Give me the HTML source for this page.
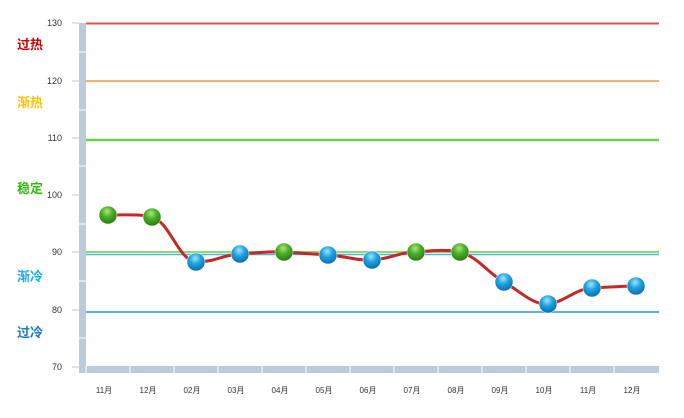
<!DOCTYPE html>
<html><head><meta charset="utf-8"><style>
body{margin:0;background:#fff}
svg text{font-family:"Liberation Sans","Noto Sans CJK SC",sans-serif}
</style></head><body>
<svg width="684" height="413" xmlns="http://www.w3.org/2000/svg">
<defs>
<radialGradient id="g" cx="0.45" cy="0.3" r="0.7"><stop offset="0" stop-color="#a8e87a"/><stop offset="0.45" stop-color="#4cae2a"/><stop offset="1" stop-color="#2a7a10"/></radialGradient>
<radialGradient id="b" cx="0.45" cy="0.3" r="0.7"><stop offset="0" stop-color="#9fe4ff"/><stop offset="0.45" stop-color="#1fa3e0"/><stop offset="1" stop-color="#0a6ea8"/></radialGradient>
</defs>
<rect x="79" y="23" width="7" height="350" fill="#bccbd9"/>
<rect x="79" y="366" width="580" height="7" fill="#bccbd9"/>
<g stroke="#fff" stroke-width="1">
<line x1="79" y1="52" x2="86" y2="52"/><line x1="79" y1="110" x2="86" y2="110"/><line x1="79" y1="166" x2="86" y2="166"/><line x1="79" y1="224" x2="86" y2="224"/><line x1="79" y1="281" x2="86" y2="281"/><line x1="79" y1="338" x2="86" y2="338"/>
<line x1="86" y1="366" x2="86" y2="373"/><line x1="130" y1="366" x2="130" y2="373"/><line x1="174" y1="366" x2="174" y2="373"/><line x1="218" y1="366" x2="218" y2="373"/><line x1="262" y1="366" x2="262" y2="373"/><line x1="306" y1="366" x2="306" y2="373"/><line x1="350" y1="366" x2="350" y2="373"/><line x1="394" y1="366" x2="394" y2="373"/><line x1="438" y1="366" x2="438" y2="373"/><line x1="482" y1="366" x2="482" y2="373"/><line x1="526" y1="366" x2="526" y2="373"/><line x1="570" y1="366" x2="570" y2="373"/><line x1="614" y1="366" x2="614" y2="373"/>
</g>
<g stroke="#bccbd9"><line x1="72" y1="23" x2="79" y2="23"/><line x1="72" y1="81" x2="79" y2="81"/><line x1="72" y1="138" x2="79" y2="138"/><line x1="72" y1="195" x2="79" y2="195"/><line x1="72" y1="252" x2="79" y2="252"/><line x1="72" y1="310" x2="79" y2="310"/><line x1="72" y1="367" x2="79" y2="367"/></g>
<g font-size="9" fill="#333" text-anchor="end">
<text x="62" y="26">130</text><text x="62" y="84">120</text><text x="62" y="141">110</text><text x="62" y="198">100</text><text x="62" y="255">90</text><text x="62" y="313">80</text><text x="62" y="370">70</text></g>
<line x1="86" y1="23.5" x2="659" y2="23.5" stroke="#d9534f" stroke-width="2"/>
<line x1="86" y1="81" x2="659" y2="81" stroke="#f5b06a" stroke-width="2"/>
<line x1="86" y1="140" x2="659" y2="140" stroke="#6fcf4a" stroke-width="2.5"/>
<line x1="86" y1="252" x2="659" y2="252" stroke="#8ed96a" stroke-width="2"/>
<line x1="86" y1="254.5" x2="659" y2="254.5" stroke="#4ab8e8" stroke-width="1.5"/>
<line x1="86" y1="312" x2="659" y2="312" stroke="#5ab0e8" stroke-width="2"/>
<g font-size="13" font-weight="bold">
<text x="17" y="49" fill="#cc0000">过热</text><text x="17" y="107" fill="#ffc000">渐热</text><text x="17" y="193" fill="#33bb11">稳定</text><text x="17" y="281" fill="#19aee8">渐冷</text><text x="17" y="337" fill="#1a7ac8">过冷</text></g>
<path d="M108,215 C130,215 140,214 152,217 C170,222 178,260 196,262 C215,262 222,255 240,254 C258,253 270,251 284,252 C300,253 315,254 328,255 C345,256 358,261 372,260 C390,259 400,252 416,252 C430,251 445,249 460,252 C478,257 488,273 504,282 C520,291 532,305 548,304 C565,302 575,289 592,288 C610,287 625,286 636,286" fill="none" stroke="#c62828" stroke-width="3"/>
<g stroke-width="0.5" stroke="#fff">
<circle cx="108" cy="215" r="9" fill="url(#g)"/><circle cx="152" cy="217" r="9" fill="url(#g)"/><circle cx="196" cy="262" r="9" fill="url(#b)"/><circle cx="240" cy="254" r="9" fill="url(#b)"/><circle cx="284" cy="252" r="9" fill="url(#g)"/><circle cx="328" cy="255" r="9" fill="url(#b)"/><circle cx="372" cy="260" r="9" fill="url(#b)"/><circle cx="416" cy="252" r="9" fill="url(#g)"/><circle cx="460" cy="252" r="9" fill="url(#g)"/><circle cx="504" cy="282" r="9" fill="url(#b)"/><circle cx="548" cy="304" r="9" fill="url(#b)"/><circle cx="592" cy="288" r="9" fill="url(#b)"/><circle cx="636" cy="286" r="9" fill="url(#b)"/></g>
<g font-size="8" fill="#333" text-anchor="middle">
<text x="104" y="393">11月</text><text x="148" y="393">12月</text><text x="192" y="393">02月</text><text x="236" y="393">03月</text><text x="280" y="393">04月</text><text x="324" y="393">05月</text><text x="368" y="393">06月</text><text x="412" y="393">07月</text><text x="456" y="393">08月</text><text x="500" y="393">09月</text><text x="544" y="393">10月</text><text x="588" y="393">11月</text><text x="632" y="393">12月</text></g>
</svg>
</body></html>
